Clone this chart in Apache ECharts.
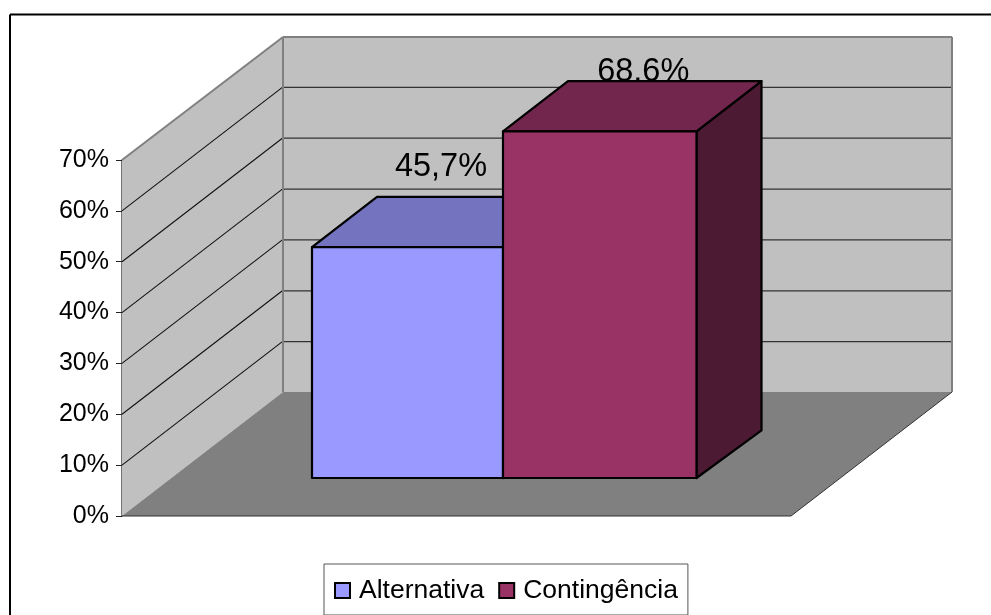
<!DOCTYPE html>
<html>
<head>
<meta charset="utf-8">
<style>html,body{margin:0;padding:0;background:#fff}#c{width:991px;height:615px}</style>
<script src="https://cdn.jsdelivr.net/npm/echarts@6/dist/echarts.min.js"></script>
</head>
<body>
<div id="c"></div>
<script>
var categories = ['Resposta'];
var alternativa = [45.7];
var contingencia = [68.6];
var seriesNames = ['Alternativa', 'Contingência'];
var yTicks = [0, 10, 20, 30, 40, 50, 60, 70];

// projection of the 3D box (styling constants, pixels)
var DX = 161, DY = -124;          // full floor depth
var FX = 46.5, FY = -38;          // front plane of the bars relative to the axis plane
var BX = 65, BY = -50.3;          // bar depth at the top of a bar
var BY_BOTTOM = -47.6;            // bar depth at the foot of a bar
var BAR_W = [191, 193.5];
var BAR_SCALE = 0.9935;           // front plane is a little smaller than the axis plane
var FONT = '"Liberation Sans", Arial, sans-serif';

function poly(pts, fill, stroke, lw) {
  return {type: 'polygon', shape: {points: pts},
    style: {fill: fill, stroke: stroke || null, lineWidth: lw || 0, lineJoin: 'round'}};
}
function line(a, b, stroke, lw) {
  return {type: 'line', shape: {x1: a[0], y1: a[1], x2: b[0], y2: b[1]},
    style: {stroke: stroke, lineWidth: lw, fill: null}};
}

function renderWalls(params, api) {
  if (params.dataIndex !== 0) return;
  var c = api.coord([0, 0]);
  var half = api.size([1, 0])[0] / 2;
  var xL = c[0] - half, xR = c[0] + half, y0 = c[1];
  var yT = api.coord([0, yTicks[yTicks.length - 1]])[1];
  var ch = [];
  // left wall
  ch.push(poly([[xL, yT], [xL + DX, yT + DY + 1], [xL + DX, y0 + DY], [xL, y0]], '#C0C0C0'));
  // back wall
  ch.push(poly([[xL + DX, yT + DY + 1], [xR + DX, yT + DY + 1], [xR + DX, y0 + DY], [xL + DX, y0 + DY]], '#C0C0C0'));
  // grid lines
  yTicks.forEach(function (t) {
    if (t === 0 || t === yTicks[yTicks.length - 1]) return;
    var y = api.coord([0, t])[1];
    ch.push(line([xL, y], [xL + DX, y + DY], '#111111', 1.1));
    ch.push(line([xL + DX, y + DY + 0.5], [xR + DX, y + DY + 0.5], '#333333', 1.3));
  });
  // floor
  ch.push(poly([[xL, y0], [xL + DX, y0 + DY], [xR + DX, y0 + DY], [xR, y0]], '#808080'));
  // wall edges
  ch.push(line([xL, yT], [xL + DX, yT + DY + 1], '#808080', 2));
  ch.push(line([xL + DX, yT + DY + 1], [xR + DX, yT + DY + 1], '#808080', 2));
  ch.push(line([xL + DX, yT + DY + 1], [xL + DX, y0 + DY], '#808080', 2));
  ch.push(line([xR + DX, yT + DY + 1], [xR + DX, y0 + DY], '#808080', 2));
  // floor outer edges
  ch.push(line([xL, y0], [xR, y0], '#333333', 1.2));
  ch.push(line([xR, y0], [xR + DX, y0 + DY], '#333333', 1));
  return {type: 'group', children: ch};
}

function renderBar(idx, front, top, side, labelDx, labelGap) {
  return function (params, api) {
    var v = api.value(1);
    var c = api.coord([api.value(0), 0]);
    var cv = api.coord([api.value(0), v]);
    var xc = c[0] + FX, yb = c[1] + FY;
    var yt = yb - (c[1] - cv[1]) * BAR_SCALE;
    var x0 = idx === 0 ? xc - BAR_W[0] : xc;
    var x1 = idx === 0 ? xc : xc + BAR_W[1];
    var lw = 2.2;
    var text = {
      type: 'text',
      style: {
        x: (x0 + x1) / 2 + labelDx, y: yt + BY - labelGap,
        text: v.toFixed(1).replace('.', ',') + '%',
        fill: '#000', font: '32.5px ' + FONT, align: 'center', verticalAlign: 'middle'
      }
    };
    return {type: 'group', children: [
      text,
      poly([[x1, yt], [x1 + BX, yt + BY], [x1 + BX, yb + BY_BOTTOM], [x1, yb]], side, '#000', lw),
      poly([[x0, yt], [x0 + BX, yt + BY], [x1 + BX, yt + BY], [x1, yt]], top, '#000', lw),
      poly([[x0, yt], [x1, yt], [x1, yb], [x0, yb]], front, '#000', lw)
    ]};
  };
}

var chart = echarts.init(document.getElementById('c'), null, {renderer: 'canvas'});
chart.setOption({
  animation: false,
  backgroundColor: '#fff',
  textStyle: {fontFamily: FONT},
  tooltip: {show: false},
  grid: {left: 122, right: 200, top: 160, bottom: 99},
  xAxis: {type: 'category', data: categories, show: false},
  yAxis: {
    type: 'value', min: 0, max: 70, interval: 10,
    axisLine: {show: true, lineStyle: {color: '#444', width: 1.5}},
    axisTick: {show: true, length: 6, lineStyle: {color: '#222', width: 1}},
    splitLine: {show: false},
    axisLabel: {formatter: '{value}%', color: '#000', fontSize: 25, fontFamily: FONT, margin: 13, padding: [2, 0, 0, 0]}
  },
  legend: {
    left: 324, top: 564, orient: 'horizontal',
    padding: [13, 10, 11, 10], itemGap: 14, itemWidth: 15, itemHeight: 15,
    borderColor: '#555', borderWidth: 1, backgroundColor: '#fff', selectedMode: false,
    textStyle: {color: '#000', fontSize: 26.5, fontFamily: FONT, padding: [0, 0, 0, 4]},
    data: [
      {name: seriesNames[0], icon: 'rect', itemStyle: {color: '#9999FF', borderColor: '#000', borderWidth: 2}},
      {name: seriesNames[1], icon: 'rect', itemStyle: {color: '#993366', borderColor: '#000', borderWidth: 2}}
    ]
  },
  graphic: [
    {type: 'line', silent: true, z: 100, shape: {x1: 10, y1: 14.5, x2: 991, y2: 14.5}, style: {stroke: '#000', lineWidth: 2}},
    {type: 'line', silent: true, z: 100, shape: {x1: 10, y1: 14.5, x2: 10, y2: 615}, style: {stroke: '#000', lineWidth: 2}}
  ],
  series: [
    {type: 'custom', silent: true, z: 1, renderItem: renderWalls, data: [[0, 0]], encode: {x: 0, y: 1}},
    {type: 'custom', name: seriesNames[0], z: 2, silent: true, itemStyle: {color: '#9999FF'},
      renderItem: renderBar(0, '#9999FF', '#7373BF', '#4D4D80', 33.5, 30),
      data: alternativa.map(function (v, i) { return [i, v]; }), encode: {x: 0, y: 1}},
    {type: 'custom', name: seriesNames[1], z: 3, silent: true, itemStyle: {color: '#993366'},
      renderItem: renderBar(1, '#993366', '#73264D', '#4D1A33', 43.5, 9),
      data: contingencia.map(function (v, i) { return [i, v]; }), encode: {x: 0, y: 1}}
  ]
});
</script>
</body>
</html>
